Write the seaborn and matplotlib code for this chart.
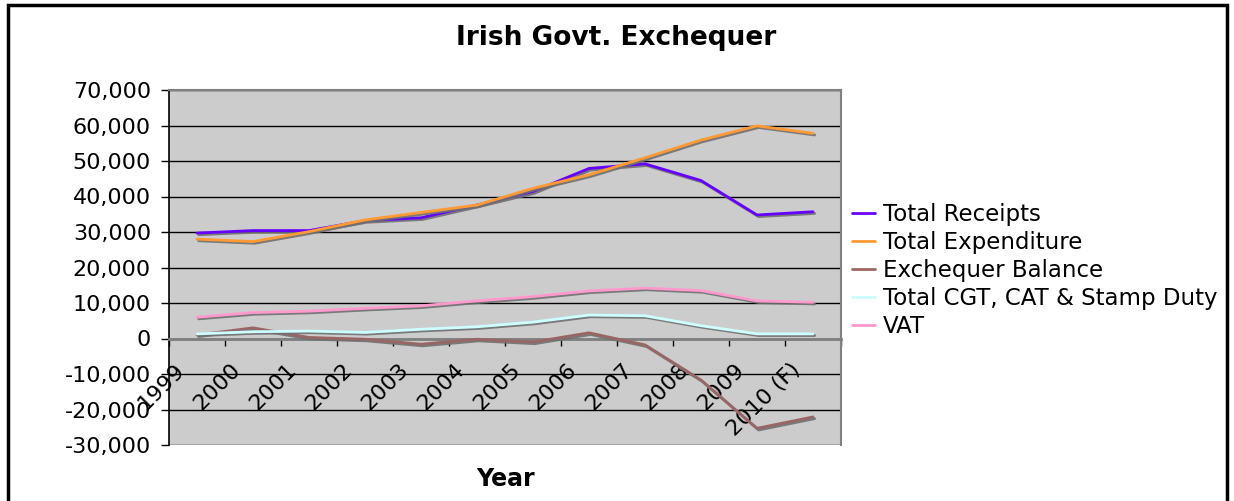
import numpy as np
import pandas as pd
import seaborn as sns
import matplotlib.pyplot as plt
import matplotlib.patheffects as pe
from matplotlib.patches import Rectangle
from matplotlib.ticker import FuncFormatter, FixedLocator
from matplotlib.transforms import ScaledTranslation

# Данные (млн евро)
years = ['1999', '2000', '2001', '2002', '2003', '2004', '2005', '2006',
         '2007', '2008', '2009', '2010 (F)']
total_receipts = [29700, 30400, 30400, 33200, 34000, 37600, 41400, 47900,
                  49200, 44500, 34800, 35700]
total_expenditure = [28000, 27300, 30100, 33400, 35500, 37600, 42300, 46100,
                     50900, 55900, 59900, 57800]
exchequer_balance = [1000, 3000, 300, -200, -1600, -200, -1000, 1600,
                     -1800, -11700, -25300, -22100]
cgt_cat_stamp = [1300, 1900, 2100, 1700, 2600, 3300, 4600, 6600,
                 6400, 3600, 1300, 1300]
vat = [6000, 7300, 7700, 8500, 9200, 10600, 11800, 13400,
       14200, 13500, 10600, 10200]

series_names = ['Total Receipts', 'Total Expenditure', 'Exchequer Balance',
                'Total CGT, CAT & Stamp Duty', 'VAT']
series_values = [total_receipts, total_expenditure, exchequer_balance,
                 cgt_cat_stamp, vat]
colors = ['#6600FF', '#FF9933', '#996666', '#CCFFFF', '#FF99CC']

rows = []
for name, vals in zip(series_names, series_values):
    for i, v in enumerate(vals):
        rows.append({'pos': i, 'value': v, 'series': name})
df = pd.DataFrame(rows)

sns.set_style('white')
plt.rcParams['font.family'] = ['DejaVu Sans']
plt.rcParams['text.color'] = 'black'
plt.rcParams['xtick.color'] = 'black'
plt.rcParams['ytick.color'] = 'black'

fig = plt.figure(figsize=(12.34, 5.01), dpi=100)
ax = fig.add_axes([169 / 1234, 1 - 445 / 501, 672 / 1234, 355 / 501])
ax.set_facecolor('#CCCCCC')

sns.lineplot(data=df, x='pos', y='value', hue='series', hue_order=series_names,
             palette=dict(zip(series_names, colors)), linewidth=2, ax=ax,
             legend=False)

shadow = [pe.SimpleLineShadow(offset=(1.2, -1.2), shadow_color='#707070', alpha=0.9),
          pe.Normal()]
for line in ax.get_lines():
    line.set_path_effects(shadow)
    line.set_zorder(3)

# ось X проходит через ноль (сначала, т.к. сбрасывает тики)
ax.spines['bottom'].set_position(('data', 0))
ax.spines['bottom'].set_color('#808080')
ax.spines['bottom'].set_linewidth(2)
ax.spines['left'].set_color('black')
ax.spines['left'].set_linewidth(1.2)
for s in ['top', 'right']:
    ax.spines[s].set_visible(True)
    ax.spines[s].set_color('#808080')
    ax.spines[s].set_linewidth(1.5)

ax.set_xlim(-0.5, 11.5)
ax.set_ylim(-30000, 70000)
ax.set_yticks(np.arange(-30000, 70001, 10000))
ax.yaxis.set_major_formatter(FuncFormatter(lambda v, p: f'{int(v):,}'))
ax.yaxis.grid(True, color='#000000', linewidth=1)
ax.set_axisbelow(True)
ax.tick_params(axis='y', direction='out', length=6, width=1, color='black',
               labelsize=16, labelcolor='black', pad=7, left=True)

# подписи категорий по центрам, засечки на границах
ax.xaxis.set_minor_locator(FixedLocator(np.arange(-0.5, 12, 1)))
ax.tick_params(axis='x', which='major', length=0, pad=15, labelsize=16,
               labelcolor='black')
ax.tick_params(axis='x', which='minor', direction='out', length=5, width=1,
               color='black', bottom=True)
ax.set_xticks(range(len(years)))
ax.set_xticklabels(years, rotation=45, ha='right', va='top')
off = ScaledTranslation(-9 / 100, 0, fig.dpi_scale_trans)
for lbl in ax.get_xticklabels():
    lbl.set_transform(lbl.get_transform() + off)

ax.set_xlabel('')
ax.set_ylabel('')

fig.text(616 / 1234, 1 - 38 / 501, 'Irish Govt. Exchequer', ha='center',
         va='center', fontsize=19, fontweight='bold')
fig.text(506 / 1234, 1 - 479 / 501, 'Year', ha='center', va='center',
         fontsize=17, fontweight='bold')

handles = [plt.Line2D([], [], color=c, linewidth=2) for c in colors]
fig.legend(handles, series_names, loc='upper left',
           bbox_to_anchor=(852 / 1234, 1 - 203 / 501), frameon=False,
           fontsize=16.5, handlelength=1.0, handletextpad=0.35,
           labelspacing=0.22, borderaxespad=0, borderpad=0)

fig.patches.append(Rectangle((8 / 1234, -0.05), 1219 / 1234, 1.05 - 5 / 501,
                             transform=fig.transFigure, fill=False,
                             edgecolor='black', linewidth=2.5, clip_on=False))

fig.savefig('out.png', dpi=100)
